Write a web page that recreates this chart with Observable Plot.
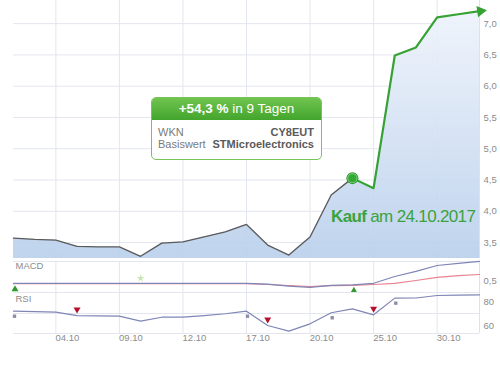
<!DOCTYPE html>
<html>
<head>
<meta charset="utf-8">
<script src="https://cdn.jsdelivr.net/npm/d3@7"></script>
<script src="https://cdn.jsdelivr.net/npm/@observablehq/plot@0.6"></script>
<style>
  body { margin: 0; background: #fff; }
  #wrap { position: relative; width: 500px; height: 380px; font-family: "Liberation Sans", Arial, sans-serif; background: #fff; overflow: hidden; }
  #wrap svg { display: block; }
  .box { position: absolute; left: 151px; top: 97px; width: 171px; height: 63px; box-sizing: border-box;
         border: 1px solid #79c45a; border-radius: 5px; background: #fff; overflow: hidden; }
  .box .hd { height: 22px; line-height: 22px; text-align: center; color: #fff; font-size: 13.5px;
             background: linear-gradient(#6fc44e, #43a52d); }
  .box .bd { padding: 6px 7px 0 6px; font-size: 11px; line-height: 12px; }
  .box .row { display: flex; justify-content: space-between; }
  .box .k { color: #7a7a7a; }
  .box .v { color: #5a5a5a; font-weight: bold; }
  .kauf { position: absolute; left: 331px; top: 208px; font-size: 17px; line-height: 17px; color: #3ca23c; letter-spacing: -0.65px; white-space: nowrap; }
</style>
</head>
<body>
<div id="wrap"></div>
<script>
// ---- data ----
const dates = ["02.10","03.10","04.10","05.10","06.10","09.10","10.10","11.10","12.10","13.10","16.10","17.10",
               "18.10","19.10","20.10","23.10","24.10","25.10","26.10","27.10","30.10","31.10","01.11"];
const price = [3.57,3.55,3.54,3.44,3.43,3.43,3.28,3.49,3.51,3.59,3.67,3.79,
               3.46,3.30,3.59,4.26,4.53,4.37,6.49,6.62,7.10,7.15,7.20];
const macd = [0.43,0.43,0.43,0.43,0.43,0.43,0.43,0.43,0.43,0.43,0.43,0.43,
              0.41,0.36,0.33,0.38,0.39,0.43,0.60,0.73,0.875,0.93,0.98];
const signal = [0.42,0.42,0.42,0.42,0.42,0.42,0.42,0.42,0.42,0.42,0.42,0.42,
                0.40,0.37,0.35,0.37,0.38,0.40,0.43,0.50,0.58,0.62,0.65];
const rsi = [71.9,71.5,71.1,68.3,68.0,67.8,63.6,66.9,66.9,68.3,69.8,71.9,
             60.0,55.3,61.4,70.6,73.9,68.9,82.8,82.9,85.0,85.3,85.6];
const tickDates = ["04.10","09.10","12.10","17.10","20.10","25.10","30.10"];
const priceTicks = [3.5,4.0,4.5,5.0,5.5,6.0,6.5,7.0];
const macdTicks = [0.5];
const rsiTicks = [60,80];
const rsiLines = [70];
const buyDate = "24.10";
const macdBuyDates = ["02.10","24.10"];
const macdStarDates = ["10.10"];
const rsiDownDates = ["05.10","18.10","25.10"];
const rsiSquareDates = ["02.10","17.10","23.10","26.10"];

// ---- derived ----
const rows = dates.map((d, i) => ({i, date: d, price: price[i], macd: macd[i], signal: signal[i], rsi: rsi[i]}));
const byDate = ds => ds.map(d => rows[dates.indexOf(d)]);
const xTickIdx = tickDates.map(d => dates.indexOf(d));
const buyIdx = dates.indexOf(buyDate);
const last = dates.length - 1;
const fmt1 = v => d3.format(".1f")(v).replace(".", ",");

const GRID = "#e3e6ef";
const FONT = "'Liberation Sans', Arial, sans-serif";
const baseStyle = {fontFamily: FONT, fontSize: "9.5px", color: "#8c8c8c", background: "transparent", overflow: "visible"};
const X = {domain: [0, last], axis: null};

const wrap = document.getElementById("wrap");

// ---- main price panel ----
const yMain = [3.245, 7.37];
const main = Plot.plot({
  width: 500, height: 258, marginTop: 0, marginBottom: 0, marginLeft: 13, marginRight: 21,
  style: baseStyle,
  x: X,
  y: {domain: yMain},
  marks: [
    Plot.ruleY(priceTicks, {stroke: GRID}),
    Plot.ruleX(xTickIdx, {stroke: GRID}),
    Plot.areaY(rows, {x: "i", y1: yMain[0], y2: "price", fill: "url(#areaGrad)", fillOpacity: 0.92}),
    Plot.ruleX([last], {stroke: "#dde1ea"}),
    Plot.line(rows.filter(d => d.i <= buyIdx), {x: "i", y: "price", stroke: "#5a5a5a", strokeWidth: 1.3}),
    Plot.line(rows.filter(d => d.i >= buyIdx), {x: "i", y: "price", stroke: "#36a234", strokeWidth: 2.2}),
    Plot.dot([rows[last]], {x: "i", y: "price", symbol: "triangle", r: 4.2, fill: "#36a234", rotate: 82, dx: 1}),
    Plot.dot([rows[buyIdx]], {x: "i", y: "price", r: 6, fill: "#2a8c2a"}),
    Plot.dot([rows[buyIdx]], {x: "i", y: "price", r: 4.6, fill: "#34a834", stroke: "#72d072", strokeWidth: 1.2}),
    Plot.axisY({anchor: "right", ticks: priceTicks, tickFormat: fmt1, tickSize: 0, tickPadding: 4, label: null})
  ]
});
const ns = "http://www.w3.org/2000/svg";
const defs = document.createElementNS(ns, "defs");
const grad = document.createElementNS(ns, "linearGradient");
grad.setAttribute("id", "areaGrad");
grad.setAttribute("x1", "0"); grad.setAttribute("y1", "0"); grad.setAttribute("x2", "0"); grad.setAttribute("y2", "1");
[["0", "#eef3fb"], ["1", "#bad0ec"]].forEach(([o, c]) => {
  const s = document.createElementNS(ns, "stop");
  s.setAttribute("offset", o); s.setAttribute("stop-color", c);
  grad.appendChild(s);
});
defs.appendChild(grad);
main.insertBefore(defs, main.firstChild);
wrap.appendChild(main);

// ---- MACD panel ----
const yMacd = [0.2, 0.975];
const macdPlot = Plot.plot({
  width: 500, height: 34, marginTop: 3, marginBottom: 0, marginLeft: 13, marginRight: 21,
  style: baseStyle,
  x: X,
  y: {domain: yMacd},
  marks: [
    Plot.ruleX(xTickIdx, {stroke: GRID}),
    Plot.ruleY([yMacd[1]], {stroke: GRID}),
    Plot.ruleX([last], {stroke: "#dde1ea"}),
    Plot.line(rows, {x: "i", y: "signal", stroke: "#e8838f", strokeWidth: 1.2}),
    Plot.line(rows, {x: "i", y: "macd", stroke: "#7f86b5", strokeWidth: 1.2}),
    Plot.dot(byDate(macdBuyDates), {x: "i", y: "macd", dy: 6, dx: 1.5, symbol: "triangle", r: 2.6, fill: "#2f9a2f"}),
    Plot.dot(byDate(macdStarDates), {x: "i", y: "macd", dy: -5, symbol: "star", r: 2.4, fill: "#c6e8b0"}),
    Plot.text(["MACD"], {frameAnchor: "top-left", textAnchor: "start", lineAnchor: "top", dx: 2, dy: 1, fill: "#8c8c8c", fontSize: 9.5}),
    Plot.axisY({anchor: "right", ticks: macdTicks, tickFormat: fmt1, tickSize: 0, tickPadding: 4, label: null})
  ]
});
wrap.appendChild(macdPlot);

// ---- RSI panel ----
const yRsi = [53.33, 87.5];
const rsiPlot = Plot.plot({
  width: 500, height: 56, marginTop: 0, marginBottom: 15, marginLeft: 13, marginRight: 21,
  style: baseStyle,
  x: X,
  y: {domain: yRsi},
  marks: [
    Plot.ruleX(xTickIdx, {stroke: GRID}),
    Plot.ruleY([yRsi[1], ...rsiLines, yRsi[0]], {stroke: GRID}),
    Plot.ruleX([last], {stroke: "#dde1ea"}),
    Plot.line(rows, {x: "i", y: "rsi", stroke: "#7f86b5", strokeWidth: 1.2}),
    Plot.dot(byDate(rsiSquareDates), {x: "i", y: "rsi", dy: 5, dx: 1, symbol: "square", r: 1.9, fill: "#8c8ca6"}),
    Plot.dot(byDate(rsiDownDates), {x: "i", y: "rsi", dy: -6, symbol: "triangle", rotate: 180, r: 2.6, fill: "#b3122e"}),
    Plot.text(["RSI"], {frameAnchor: "top-left", textAnchor: "start", lineAnchor: "top", dx: 2, dy: 3, fill: "#8c8c8c", fontSize: 9.5}),
    Plot.axisY({anchor: "right", ticks: rsiTicks, tickFormat: d3.format("d"), tickSize: 0, tickPadding: 4, label: null}),
    Plot.axisX({anchor: "bottom", ticks: xTickIdx, tickFormat: i => dates[i], tickSize: 0, tickPadding: 1, dx: 11.5, label: null})
  ]
});
wrap.appendChild(rsiPlot);

// ---- annotations ----
const box = document.createElement("div");
box.className = "box";
box.innerHTML = `<div class="hd"><b>+54,3 %</b> in 9 Tagen</div>
  <div class="bd">
    <div class="row"><span class="k">WKN</span><span class="v">CY8EUT</span></div>
    <div class="row"><span class="k">Basiswert</span><span class="v">STMicroelectronics</span></div>
  </div>`;
wrap.appendChild(box);

const kauf = document.createElement("div");
kauf.className = "kauf";
kauf.innerHTML = `<b>Kauf</b> am 24.10.2017`;
wrap.appendChild(kauf);
</script>
</body>
</html>
